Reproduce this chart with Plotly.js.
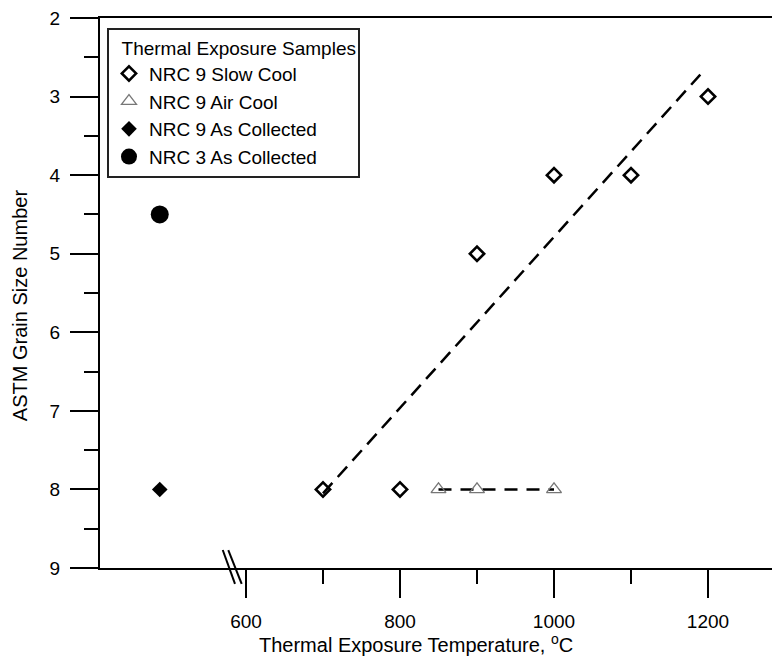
<!DOCTYPE html>
<html>
<head>
<meta charset="utf-8">
<script src="https://cdn.plot.ly/plotly-3.0.1.min.js"></script>
<style>html,body{margin:0;padding:0;background:#fff;}#chart{width:772px;height:657px;}</style>
</head>
<body>
<div id="chart"></div>
<script>
// ---- data ----
var slowCoolTemp = [700, 800, 900, 1000, 1100, 1200];
var slowCoolGrain = [8, 8, 5, 4, 4, 3];
var airCoolTemp = [850, 900, 1000];
var airCoolGrain = [8, 8, 8];
var nrc9CollectedTemp = [488];
var nrc9CollectedGrain = [8];
var nrc3CollectedTemp = [488];
var nrc3CollectedGrain = [4.5];
var slowTrendTemp = [700, 1190];
var slowTrendGrain = [8.05, 2.72];
var airTrendTemp = [850, 1000];
var airTrendGrain = [8, 8];
var xTickVals = [600, 800, 1000, 1200];
var xTickText = ['600', '800', '1000', '1200'];
var xMinorVals = [700, 900, 1100];
var yTickVals = [2, 3, 4, 5, 6, 7, 8, 9];
var yTickText = ['2', '3', '4', '5', '6', '7', '8', '9'];
var seriesNames = ['NRC 9 Slow Cool', 'NRC 9 Air Cool', 'NRC 9 As Collected', 'NRC 3 As Collected'];
var legendTitle = 'Thermal Exposure Samples';
var xTitle = 'Thermal Exposure Temperature, <sup>o</sup>C';
var yTitle = 'ASTM Grain Size Number';

// ---- decoration settings ----
var FONT = 'Liberation Sans, Arial, sans-serif';
var breakSlashes = [[569.8, 585.7], [577.0, 594.4]];

var traces = [
  {x: slowTrendTemp, y: slowTrendGrain, mode: 'lines', showlegend: false, hoverinfo: 'skip',
   line: {color: '#000', width: 2.5, dash: '14px,8px'}},
  {x: airTrendTemp, y: airTrendGrain, mode: 'lines', showlegend: false, hoverinfo: 'skip',
   line: {color: '#000', width: 2.5, dash: '13px,9px'}},
  {x: slowCoolTemp, y: slowCoolGrain, mode: 'markers', name: seriesNames[0], legendgroup: 'a',
   marker: {symbol: 'diamond-open', size: 11, color: '#000', line: {color: '#000', width: 2.6}}},
  {x: airCoolTemp, y: airCoolGrain, mode: 'markers', name: seriesNames[1], legendgroup: 'b',
   marker: {symbol: 'triangle-up-open', size: 13, color: '#777', line: {color: '#777', width: 1.3}}},
  {x: nrc9CollectedTemp, y: nrc9CollectedGrain, mode: 'markers', name: seriesNames[2], legendgroup: 'c',
   marker: {symbol: 'diamond', size: 12, color: '#000'}},
  {x: nrc3CollectedTemp, y: nrc3CollectedGrain, mode: 'markers', name: seriesNames[3], legendgroup: 'd',
   marker: {symbol: 'circle', size: 18, color: '#000'}}
];

var shapes = breakSlashes.map(function (s) {
  return {type: 'line', xref: 'x', yref: 'paper', x0: s[0], x1: s[1], y0: 0.0327, y1: -0.029,
          line: {color: '#000', width: 2}};
});

var layout = {
  width: 772, height: 657,
  margin: {l: 100, r: 0, t: 18, b: 89},
  paper_bgcolor: '#fff', plot_bgcolor: '#fff',
  font: {family: FONT, size: 19, color: '#000'},
  showlegend: true,
  xaxis: {
    range: [410.4, 1283.1], showgrid: false, zeroline: false,
    showline: true, linecolor: '#000', linewidth: 2, mirror: true,
    tickmode: 'array', tickvals: xTickVals, ticktext: xTickText,
    ticks: 'outside', ticklen: 28, tickwidth: 2, tickcolor: '#000',
    ticklabelstandoff: 7,
    tickfont: {family: FONT, size: 19, color: '#000'},
    minor: {tickmode: 'array', tickvals: xMinorVals, ticks: 'outside', ticklen: 14, tickwidth: 2, tickcolor: '#000', showgrid: false}
  },
  yaxis: {
    range: [9, 2], showgrid: false, zeroline: false,
    showline: true, linecolor: '#000', linewidth: 2,
    tickmode: 'array', tickvals: yTickVals, ticktext: yTickText,
    ticks: 'outside', ticklen: 28, tickwidth: 2, tickcolor: '#000',
    ticklabelstandoff: 6,
    tickfont: {family: FONT, size: 19, color: '#000'},
    minor: {dtick: 0.5, ticks: 'outside', ticklen: 14, tickwidth: 2, tickcolor: '#000', showgrid: false}
  },
  legend: {
    x: 0.0104, y: 0.982, xanchor: 'left', yanchor: 'top',
    bgcolor: '#fff', bordercolor: '#222', borderwidth: 2,
    font: {family: FONT, size: 19, color: '#000'},
    title: {text: '\u00a0\u00a0' + legendTitle, font: {family: FONT, size: 19, color: '#000'}},
    traceorder: 'normal', tracegroupgap: 0
  },
  annotations: [{
    text: xTitle, xref: 'paper', yref: 'paper',
    x: 0.470, y: -0.137, xanchor: 'center', yanchor: 'middle', showarrow: false,
    font: {family: FONT, size: 20, color: '#000'}
  }, {
    text: yTitle, xref: 'paper', yref: 'paper', textangle: -90,
    x: -0.119, y: 0.478, xanchor: 'center', yanchor: 'middle', showarrow: false,
    font: {family: FONT, size: 20, color: '#000'}
  }],
  shapes: shapes
};

Plotly.newPlot('chart', traces, layout, {displayModeBar: false, staticPlot: true});
</script>
</body>
</html>
